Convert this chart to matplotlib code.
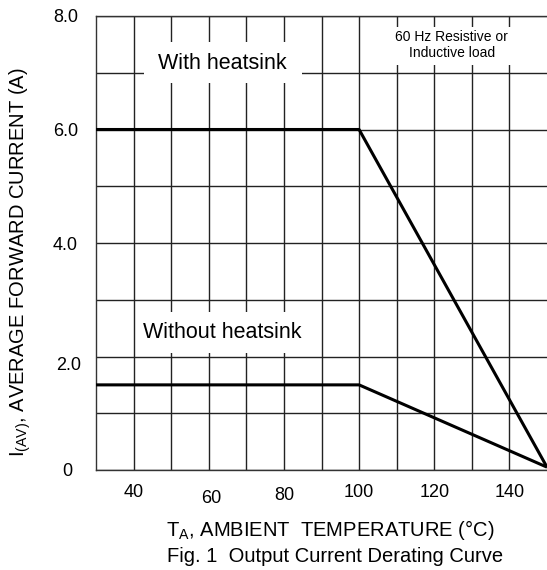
import matplotlib
matplotlib.use('Agg')
import matplotlib.pyplot as plt
from matplotlib.patches import Rectangle
from matplotlib.transforms import ScaledTranslation

plt.rcParams['font.family'] = ['Liberation Sans', 'DejaVu Sans']
plt.rcParams['mathtext.default'] = 'regular'

# derating curves (temperature in degC, current in A)
temp_with = [30, 100, 150]
amps_with = [6.0, 6.0, 0.05]
temp_without = [30, 100, 150]
amps_without = [1.5, 1.5, 0.05]

x_ticks = [40, 60, 80, 100, 120, 140]
y_ticks = [0, 2, 4, 6, 8]
y_tick_labels = ['0', '2.0', '4.0', '6.0', '8.0']

fig = plt.figure(figsize=(5.47, 5.70), dpi=100)
ax = fig.add_axes([96/547, 100/570, 451/547, 454/570])

ax.plot(temp_with, amps_with, color='black', lw=2.2, solid_capstyle='butt', zorder=4, clip_on=False)
ax.plot(temp_without, amps_without, color='black', lw=2.2, solid_capstyle='butt', zorder=4, clip_on=False)

ax.set_xlim(30, 150)
ax.set_ylim(0, 8)

# grid every 10 degC / 1 A, labels on a coarser set
ax.set_xticks(range(40, 150, 10), minor=True)
ax.set_yticks(range(0, 9), minor=True)
ax.set_xticks(x_ticks)
ax.set_yticks(y_ticks)
ax.set_yticklabels(y_tick_labels)
ax.grid(which='both', color='#222222', lw=1.0)
ax.set_axisbelow(True)
ax.tick_params(which='both', length=0)
ax.tick_params(axis='x', pad=10, labelsize=13)
ax.tick_params(axis='y', pad=13, labelsize=13)

ax.spines['right'].set_visible(False)
for s in ['left', 'bottom', 'top']:
    ax.spines[s].set_color('#333333')
    ax.spines[s].set_linewidth(1.0)

# small label nudges seen in the original
def nudge(lab, dx, dy):
    lab.set_transform(lab.get_transform() + ScaledTranslation(dx/72, dy/72, fig.dpi_scale_trans))

xl = ax.get_xticklabels()
nudge(xl[1], 2, -4.5)
nudge(xl[2], 0, -2)
yl = ax.get_yticklabels()
nudge(yl[0], -4, 0)
nudge(yl[1], 2, -5)

# white masks behind the annotations
ax.add_patch(Rectangle((42.7, 6.82), 42.2, 0.72, facecolor='white', edgecolor='none', zorder=2))
ax.add_patch(Rectangle((41.7, 2.06), 46.4, 0.72, facecolor='white', edgecolor='none', zorder=2))
ax.add_patch(Rectangle((101.2, 7.14), 48.5, 0.66, facecolor='white', edgecolor='none', zorder=2))

ax.text(63.7, 7.17, 'With heatsink', fontsize=15.5, ha='center', va='center', zorder=3)
ax.text(63.7, 2.43, 'Without heatsink', fontsize=15.5, ha='center', va='center', zorder=3)
ax.text(124.7, 7.49, '60 Hz Resistive or\nInductive load', fontsize=10, ha='center', va='center',
        linespacing=1.2, zorder=3)

ylab = ax.set_ylabel('I$_{(AV)}$, AVERAGE FORWARD CURRENT (A)', fontsize=14.5)
ax.yaxis.set_label_coords(-0.168, 0.458)
ylab.set_va('center')

fig.text(330/547, 1 - 536/570, 'T$_A$, AMBIENT  TEMPERATURE (°C)', fontsize=14.5, ha='center', va='baseline')
fig.text(335/547, 1 - 562/570, 'Fig. 1  Output Current Derating Curve', fontsize=14.5, ha='center', va='baseline')

fig.savefig('out.png', dpi=100)
